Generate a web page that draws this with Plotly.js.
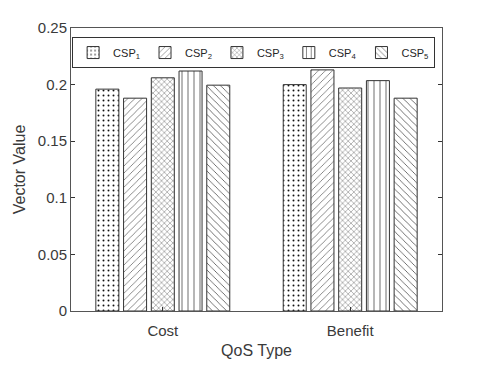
<!DOCTYPE html>
<html>
<head>
<meta charset="utf-8">
<script src="https://cdn.plot.ly/plotly-3.0.1.min.js"></script>
<style>
  html, body { margin: 0; padding: 0; background: #fff; }
  #chart { width: 491px; height: 369px; }
</style>
</head>
<body>
<div id="chart"></div>
<script>
// categories and series
var qosTypes = ['Cost', 'Benefit'];
var csp1 = [0.196, 0.200];
var csp2 = [0.188, 0.213];
var csp3 = [0.206, 0.197];
var csp4 = [0.212, 0.2035];
var csp5 = [0.1995, 0.188];
var seriesNames = ['CSP<sub>1</sub>', 'CSP<sub>2</sub>', 'CSP<sub>3</sub>', 'CSP<sub>4</sub>', 'CSP<sub>5</sub>'];
var yTicks = [0, 0.05, 0.1, 0.15, 0.2, 0.25];

var shapes = ['.', '/', 'x', '|', '\\'];
var sizes = [5, 5, 4, 6, 5];
var solid = [0.12, 0.15, 0.25, 0.12, 0.15];
var fg = ['#111', '#666', '#777', '#333', '#444'];

var data = [csp1, csp2, csp3, csp4, csp5].map(function (vals, i) {
  return {
    x: qosTypes,
    y: vals,
    name: seriesNames[i],
    type: 'bar',
    marker: {
      color: '#fff',
      line: { color: '#333', width: 1 },
      pattern: { shape: shapes[i], fgcolor: fg[i], bgcolor: '#fff', size: sizes[i], solidity: solid[i] }
    }
  };
});

var layout = {
  width: 491,
  height: 369,
  margin: { l: 71, r: 49, t: 28, b: 58 },
  paper_bgcolor: '#fff',
  plot_bgcolor: '#fff',
  font: { family: 'Liberation Sans, Arial, sans-serif', color: '#3a3a3a', size: 15 },
  barmode: 'group',
  bargap: 0.26,
  bargroupgap: 0.17,
  showlegend: true,
  legend: {
    orientation: 'h',
    x: 0.003, xanchor: 'left',
    y: 0.968, yanchor: 'top',
    bgcolor: '#fff',
    bordercolor: '#333',
    borderwidth: 1,
    font: { size: 11, color: '#262626' },
    itemwidth: 30,
    tracegroupgap: 0
  },
  xaxis: {
    title: { text: 'QoS Type', font: { size: 16 }, standoff: 6 },
    range: [-0.49, 1.49],
    showline: true, mirror: true, linecolor: '#555', linewidth: 1,
    ticks: 'inside', ticklen: 4, tickcolor: '#333',
    ticklabelstandoff: 6,
    showgrid: false, zeroline: false
  },
  yaxis: {
    title: { text: 'Vector Value', font: { size: 16 }, standoff: 8 },
    range: [0, 0.25],
    tickvals: yTicks,
    ticktext: yTicks.map(String),
    showline: true, mirror: 'ticks', linecolor: '#555', linewidth: 1,
    ticks: 'inside', ticklen: 4, tickcolor: '#333',
    showgrid: false, zeroline: false
  }
};

Plotly.newPlot('chart', data, layout, { displayModeBar: false, staticPlot: true });
</script>
</body>
</html>
